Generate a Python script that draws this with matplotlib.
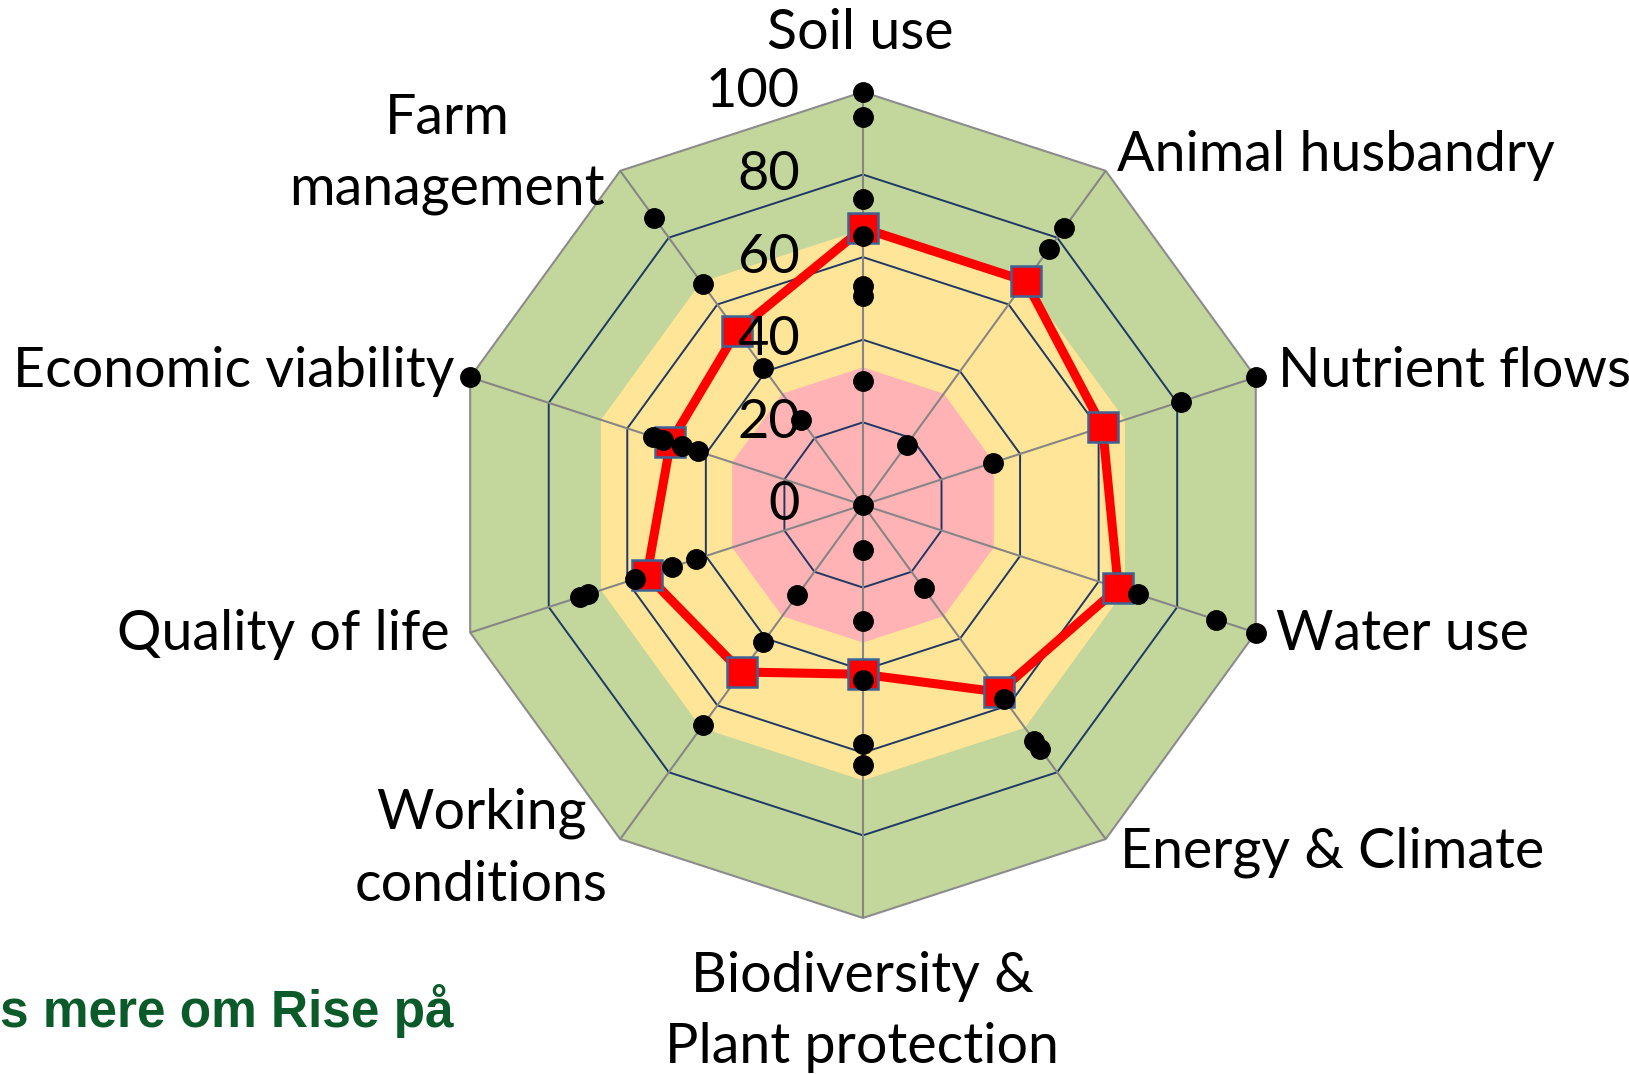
import matplotlib.pyplot as plt
import numpy as np

# Categories clockwise from the top
categories = ['Soil use', 'Animal husbandry', 'Nutrient flows', 'Water use',
              'Energy & Climate', 'Biodiversity &\nPlant protection',
              'Working\nconditions', 'Quality of life', 'Economic viability',
              'Farm\nmanagement']

# Red line (farm score)
farm_scores = [67, 67, 61, 65, 56, 41, 50, 55, 49, 52]

# Black dots (other farms), one list per category
other_scores = [
    [100, 94, 74, 65, 53, 50.5, 30, 0],
    [83, 76.5, 18],
    [100, 81, 33],
    [100, 90, 70],
    [73, 70.5, 58, 25],
    [63, 58, 42.5, 28, 11],
    [66, 41, 27],
    [72, 70, 58, 48.5, 42.5],
    [100, 53.5, 51, 46, 42],
    [86, 66, 41, 25.5],
]

# Background bands (upper edges) and grid levels
band_edges = [100, 66.7, 33.3]
band_colors = ['#C3D69B', '#FFE597', '#FFB3B5']
grid_levels = [20, 40, 60, 80]
tick_levels = [0, 20, 40, 60, 80, 100]

n = len(categories)
theta = np.arange(n) * 2 * np.pi / n
theta_c = np.append(theta, theta[0])

fig = plt.figure(figsize=(16.29, 10.74), dpi=100)
ax = fig.add_axes([0.2762, 0.1453, 0.5071, 0.7691], projection='polar')
ax.set_theta_offset(np.pi / 2)
ax.set_theta_direction(-1)
ax.set_ylim(0, 100)
ax.set_xticks([])
ax.set_yticks([])
ax.grid(False)
ax.spines['polar'].set_visible(False)
ax.patch.set_alpha(0)

# bands
for edge, col in zip(band_edges, band_colors):
    ax.fill(theta_c, [edge] * (n + 1), color=col, lw=0, zorder=1)

# grid decagons
for lv in grid_levels:
    ax.plot(theta_c, [lv] * (n + 1), color='#1F3864', lw=1.4, zorder=2)
ax.plot(theta_c, [100] * (n + 1), color='#8C8C8C', lw=1.5, zorder=2,
        clip_on=False)

# spokes
for t in theta:
    ax.plot([t, t], [0, 100], color='#868686', lw=1.5, zorder=2)

# farm line
ax.plot(theta_c, farm_scores + farm_scores[:1], color='#FF0000', lw=6.5,
        zorder=3, clip_on=False)
ax.plot(theta, farm_scores, ls='none', marker='s', ms=21, mfc='#FF0000',
        mec='#3C6496', mew=1.8, zorder=4, clip_on=False)

# other farms
for t, vals in zip(theta, other_scores):
    ax.plot([t] * len(vals), vals, ls='none', marker='o', ms=14,
            color='black', zorder=5, clip_on=False)

font = 'Lato'
fs = 40

# value labels along the top spoke
for lv in tick_levels:
    ax.annotate(str(lv), (0, lv), xytext=(-63, 0), textcoords='offset pixels',
                ha='right', va='center', fontsize=39, family=font, zorder=6)

# category labels
label_offsets = [(-3, 58), (11, 15), (22, 6), (20, -2), (14, -13),
                 (-1, -94), (-139, -10), (-21, -2), (-16, 6), (-173, 16)]
label_ha = ['center', 'left', 'left', 'left', 'left',
            'center', 'center', 'right', 'right', 'center']
for t, lab, off, ha in zip(theta, categories, label_offsets, label_ha):
    ax.annotate(lab, (t, 100), xytext=off, textcoords='offset pixels',
                ha=ha, va='center', multialignment='center', fontsize=fs,
                family=font, linespacing=1.5, annotation_clip=False)

fig.text(0.0, 0.0438, 's mere om Rise på', color='#0B5A2A', fontsize=37,
         fontweight='bold', family='Liberation Sans', ha='left', va='baseline')

fig.savefig('out.png', dpi=100)
